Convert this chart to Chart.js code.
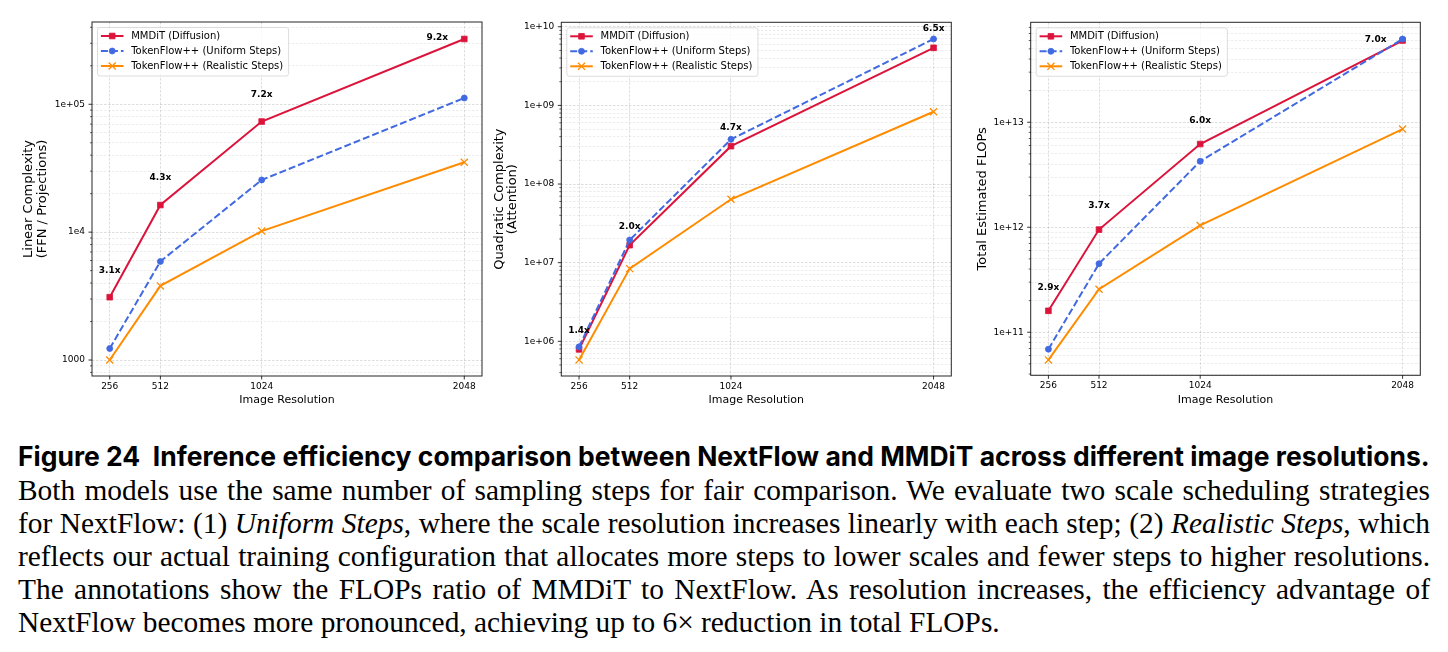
<!DOCTYPE html>
<html>
<head>
<meta charset="utf-8">
<script src="https://cdn.jsdelivr.net/npm/chart.js@4.4.1/dist/chart.umd.min.js"></script>
<style>
  html, body { margin: 0; padding: 0; background: #fff; }
  body { width: 1448px; height: 652px; position: relative; overflow: hidden; }
  canvas { position: absolute; top: 0; }
  .cap { position: absolute; left: 18px; color: #000; white-space: nowrap; line-height: 1; }
  .cap-title { font-family: Inter, "Noto Sans", sans-serif; font-weight: 700; }
  .cap-body { font-family: "Liberation Serif", serif; }
  .bl { display: inline-block; width: 0; height: 0; }
</style>
</head>
<body>
<div class="cap cap-title" id="capTitle"><span class="bl"></span>Figure 24&nbsp; Inference efficiency comparison between NextFlow and MMDiT across different image resolutions.</div>
<div class="cap cap-body line"><span class="bl"></span>Both models use the same number of sampling steps for fair comparison. We evaluate two scale scheduling strategies</div>
<div class="cap cap-body line"><span class="bl"></span>for NextFlow: (1) <i>Uniform Steps</i>, where the scale resolution increases linearly with each step; (2) <i>Realistic Steps</i>, which</div>
<div class="cap cap-body line"><span class="bl"></span>reflects our actual training configuration that allocates more steps to lower scales and fewer steps to higher resolutions.</div>
<div class="cap cap-body line"><span class="bl"></span>The annotations show the FLOPs ratio of MMDiT to NextFlow. As resolution increases, the efficiency advantage of</div>
<div class="cap cap-body line"><span class="bl"></span>NextFlow becomes more pronounced, achieving up to 6× reduction in total FLOPs.</div>
<script>
// ---- data ----
const resolutions = [256, 512, 1024, 2048];
const xTickValues = [256, 512, 1024, 2048];
const xTickLabels = ['256', '512', '1024', '2048'];
const seriesNames = ['MMDiT (Diffusion)', 'TokenFlow++ (Uniform Steps)', 'TokenFlow++ (Realistic Steps)'];

// linear complexity (FFN / projections)
const linearMmdit = [3100, 16300, 73300, 324000];
const linearUniform = [1230, 5900, 25600, 112000];
const linearRealistic = [1000, 3800, 10200, 35200];
const linearRatios = ['3.1x', '4.3x', '7.2x', '9.2x'];
const linearTickValues = [1e3, 1e4, 1e5];
const linearTickLabels = ['1000', '1e4', '1e+05'];

// quadratic complexity (attention)
const quadMmdit = [7.9e5, 1.67e7, 3.03e8, 5.4e9];
const quadUniform = [8.5e5, 1.94e7, 3.7e8, 7.0e9];
const quadRealistic = [5.8e5, 8.4e6, 6.4e7, 8.3e8];
const quadRatios = ['1.4x', '2.0x', '4.7x', '6.5x'];
const quadTickValues = [1e6, 1e7, 1e8, 1e9, 1e10];
const quadTickLabels = ['1e+06', '1e+07', '1e+08', '1e+09', '1e+10'];

// total estimated FLOPs
const totalMmdit = [1.6e11, 9.5e11, 6.2e12, 6.0e13];
const totalUniform = [6.9e10, 4.5e11, 4.25e12, 6.2e13];
const totalRealistic = [5.45e10, 2.57e11, 1.04e12, 8.6e12];
const totalRatios = ['2.9x', '3.7x', '6.0x', '7.0x'];
const totalTickValues = [1e11, 1e12, 1e13];
const totalTickLabels = ['1e+11', '1e+12', '1e+13'];

// ---- layout / style ----
const CANVAS_H = 415;
const X_MIN = 166.4, X_MAX = 2137.6;
const XTITLE_LH = 13.5;
const YTITLE_LH = 13.5;
const GRID_MAJOR = 'rgba(0,0,0,0.17)';
const GRID_MINOR = 'rgba(0,0,0,0.12)';

const seriesStyles = [
  { color: '#DC143C', dash: [], pointStyle: 'rect', radius: 4, pointBorder: 0.8, order: 3 },
  { color: '#4169E1', dash: [7, 3], pointStyle: 'circle', radius: 3, pointBorder: 0.8, order: 2 },
  { color: '#FF8C00', dash: [], pointStyle: 'crossRot', radius: 5, pointBorder: 1.3, order: 1 },
];

const panels = [
  {
    canvasLeft: 0, canvasWidth: 490, plot: { l: 92, r: 482, t: 22, b: 376 },
    yTitle: ['Linear Complexity', '(FFN / Projections)'], yTitleX: 29,
    yMin: 750, yMax: 4.4e5,
    series: [linearMmdit, linearUniform, linearRealistic],
    ratios: linearRatios, tickValues: linearTickValues, tickLabels: linearTickLabels,
    lift: 27, lastToLeft: true,
  },
  {
    canvasLeft: 490, canvasWidth: 470, plot: { l: 561.3, r: 951.3, t: 22.3, b: 376 },
    yTitle: ['Quadratic Complexity', '(Attention)'], yTitleX: 499.3,
    yMin: 3.62e5, yMax: 1.14e10,
    series: [quadMmdit, quadUniform, quadRealistic],
    ratios: quadRatios, tickValues: quadTickValues, tickLabels: quadTickLabels,
    lift: 19, lastToLeft: false,
  },
  {
    canvasLeft: 960, canvasWidth: 488, plot: { l: 1030.7, r: 1420.3, t: 22.3, b: 375.3 },
    yTitle: 'Total Estimated FLOPs', yTitleX: 982.3,
    yMin: 3.89e10, yMax: 8.95e13,
    series: [totalMmdit, totalUniform, totalRealistic],
    ratios: totalRatios, tickValues: totalTickValues, tickLabels: totalTickLabels,
    lift: 23.5, lastToLeft: true,
  },
];

Chart.defaults.font.family = '"DejaVu Sans", sans-serif';
Chart.defaults.color = '#000';

// spines drawn above the lines, like matplotlib
const framePlugin = {
  id: 'frame',
  afterDatasetsDraw(chart) {
    const { ctx, chartArea: a } = chart;
    ctx.save();
    ctx.strokeStyle = '#262626';
    ctx.lineWidth = 1;
    ctx.strokeRect(a.left, a.top, a.right - a.left, a.bottom - a.top);
    ctx.restore();
  },
};

const ratioLabelsPlugin = {
  id: 'ratioLabels',
  afterDatasetsDraw(chart, args, opts) {
    const { ctx } = chart;
    const pts = chart.getDatasetMeta(0).data;
    ctx.save();
    ctx.font = 'bold 9px "DejaVu Sans"';
    ctx.fillStyle = '#000';
    ctx.textAlign = 'center';
    ctx.textBaseline = 'middle';
    pts.forEach((pt, i) => {
      const last = i === pts.length - 1;
      if (last && opts.lastToLeft) {
        ctx.fillText(opts.labels[i], pt.x - 27, pt.y - 1);
      } else {
        ctx.fillText(opts.labels[i], pt.x, pt.y - opts.lift);
      }
    });
    ctx.restore();
  },
};

const tickMarksPlugin = {
  id: 'tickMarks',
  afterDraw(chart) {
    const { ctx, chartArea: a, scales } = chart;
    ctx.save();
    ctx.strokeStyle = '#000';
    scales.y.ticks.forEach(t => {
      const y = scales.y.getPixelForValue(t.value);
      const len = t.major ? 3.5 : 2;
      ctx.lineWidth = t.major ? 0.8 : 0.6;
      ctx.beginPath();
      ctx.moveTo(a.left - len, y);
      ctx.lineTo(a.left, y);
      ctx.stroke();
    });
    ctx.lineWidth = 0.8;
    scales.x.ticks.forEach(t => {
      const x = scales.x.getPixelForValue(t.value);
      ctx.beginPath();
      ctx.moveTo(x, a.bottom);
      ctx.lineTo(x, a.bottom + 3.5);
      ctx.stroke();
    });
    ctx.restore();
  },
};

const boxLegendPlugin = {
  id: 'boxLegend',
  afterDraw(chart) {
    const { ctx, chartArea: a } = chart;
    const sets = chart.data.datasets;
    ctx.save();
    ctx.font = '10px "DejaVu Sans"';
    const textW = Math.max(...sets.map(d => ctx.measureText(d.label).width));
    const bx = a.left + 5.5, by = a.top + 5.5;
    const bw = 33.7 + textW + 5.5, bh = 48.5;
    ctx.beginPath();
    if (ctx.roundRect) ctx.roundRect(bx, by, bw, bh, 2.5); else ctx.rect(bx, by, bw, bh);
    ctx.fillStyle = 'rgba(255,255,255,0.8)';
    ctx.fill();
    ctx.strokeStyle = '#d4d4d4';
    ctx.lineWidth = 0.8;
    ctx.stroke();
    sets.forEach((d, i) => {
      const y = by + 8.5 + i * 15;
      ctx.strokeStyle = d.borderColor;
      ctx.lineWidth = d.borderWidth;
      ctx.setLineDash(d.borderDash || []);
      ctx.beginPath();
      ctx.moveTo(bx + 3.4, y);
      ctx.lineTo(bx + 26, y);
      ctx.stroke();
      ctx.setLineDash([]);
      ctx.fillStyle = d.pointBackgroundColor;
      ctx.strokeStyle = d.pointBorderColor;
      ctx.lineWidth = d.pointBorderWidth;
      Chart.helpers.drawPoint(ctx, {
        pointStyle: d.pointStyle, radius: d.pointRadius, borderWidth: d.pointBorderWidth, rotation: 0,
      }, bx + 14.7, y);
      ctx.fillStyle = '#000';
      ctx.textAlign = 'left';
      ctx.textBaseline = 'middle';
      ctx.fillText(d.label, bx + 33.7, y);
    });
    ctx.restore();
  },
};

function logTicks(min, max) {
  const out = [];
  for (let e = Math.floor(Math.log10(min)); e <= Math.ceil(Math.log10(max)); e++) {
    for (let m = 1; m <= 9; m++) {
      const v = m * Math.pow(10, e);
      if (v >= min && v <= max) out.push({ value: v, major: m === 1 });
    }
  }
  return out;
}

function makePanel(p) {
  const canvas = document.createElement('canvas');
  canvas.width = p.canvasWidth;
  canvas.height = CANVAS_H;
  canvas.style.left = p.canvasLeft + 'px';
  canvas.style.width = p.canvasWidth + 'px';
  canvas.style.height = CANVAS_H + 'px';
  document.body.appendChild(canvas);

  const datasets = p.series.map((vals, s) => {
    const st = seriesStyles[s];
    return {
      label: seriesNames[s],
      data: resolutions.map((x, i) => ({ x, y: vals[i] })),
      borderColor: st.color,
      backgroundColor: st.color,
      pointBackgroundColor: st.color,
      pointBorderColor: st.color,
      borderWidth: 2,
      borderDash: st.dash,
      pointStyle: st.pointStyle,
      pointRadius: st.radius,
      pointBorderWidth: st.pointBorder,
      order: st.order,
      tension: 0,
    };
  });

  new Chart(canvas, {
    type: 'line',
    data: { datasets },
    options: {
      responsive: false,
      animation: false,
      devicePixelRatio: 1,
      events: [],
      layout: {
        padding: { left: 0, top: p.plot.t, right: p.canvasLeft + p.canvasWidth - p.plot.r, bottom: 0 },
      },
      plugins: {
        legend: { display: false },
        tooltip: { enabled: false },
        ratioLabels: { labels: p.ratios, lift: p.lift, lastToLeft: p.lastToLeft },
      },
      scales: {
        x: {
          type: 'linear',
          min: X_MIN,
          max: X_MAX,
          bounds: 'data',
          afterBuildTicks: s => { s.ticks = xTickValues.map(v => ({ value: v })); },
          afterFit: s => { s.height = CANVAS_H - p.plot.b; },
          ticks: {
            autoSkip: false,
            maxRotation: 0,
            padding: 5,
            font: { size: 9 },
            color: '#000',
            callback: v => xTickLabels[xTickValues.indexOf(v)],
          },
          grid: { drawTicks: false, color: GRID_MAJOR, lineWidth: 0.8 },
          border: { display: false, dash: [2.5, 1.5] },
          title: {
            display: true, text: 'Image Resolution', color: '#000',
            font: { size: 11, lineHeight: XTITLE_LH / 11 },
            padding: { top: 0, bottom: 8.25 },
          },
        },
        y: {
          type: 'logarithmic',
          min: p.yMin,
          max: p.yMax,
          bounds: 'data',
          afterBuildTicks: s => { s.ticks = logTicks(p.yMin, p.yMax); },
          afterFit: s => { s.width = p.plot.l - p.canvasLeft; },
          ticks: {
            autoSkip: false,
            padding: 7,
            font: { size: 9 },
            color: '#000',
            major: { enabled: false },
            callback: v => {
              const i = p.tickValues.indexOf(v);
              return i >= 0 ? p.tickLabels[i] : '';
            },
          },
          grid: {
            drawTicks: false,
            color: c => (c.tick && c.tick.major ? GRID_MAJOR : GRID_MINOR),
            lineWidth: c => (c.tick && c.tick.major ? 0.8 : 0.6),
          },
          border: { display: false, dash: [2.5, 1.5] },
          title: {
            display: true, text: p.yTitle, color: '#000',
            font: { size: 13, lineHeight: YTITLE_LH / 13 },
            padding: { top: p.yTitleX - p.canvasLeft - YTITLE_LH / 2, bottom: 0 },
          },
        },
      },
    },
    plugins: [framePlugin, ratioLabelsPlugin, tickMarksPlugin, boxLegendPlugin],
  });
}

panels.forEach(makePanel);

// ---- caption: fit widths, then pin baselines ----
function pinBaseline(el, baseline) {
  el.style.top = '0px';
  const mark = el.querySelector('.bl');
  const y = mark.getBoundingClientRect().top;
  el.style.top = (baseline - y) + 'px';
}

const CAP_W = 1412;
const titleEl = document.getElementById('capTitle');
titleEl.style.fontSize = '20px';
const tw = titleEl.getBoundingClientRect().width;
titleEl.style.fontSize = (20 * CAP_W / tw) + 'px';
pinBaseline(titleEl, 466);

const lines = Array.from(document.querySelectorAll('.line'));
let bodySize = 40;
lines.forEach((el, i) => {
  el.style.fontSize = '20px';
  if (i < lines.length - 1) {
    const w = el.getBoundingClientRect().width;
    bodySize = Math.min(bodySize, 20 * CAP_W / w * 0.998);
  }
});
const baselines = [500, 533, 566, 599, 632];
lines.forEach((el, i) => {
  el.style.fontSize = bodySize + 'px';
  if (i < lines.length - 1) {
    el.style.whiteSpace = 'normal';
    el.style.width = CAP_W + 'px';
    el.style.textAlign = 'justify';
    el.style.textAlignLast = 'justify';
  }
  pinBaseline(el, baselines[i]);
});
</script>
</body>
</html>
